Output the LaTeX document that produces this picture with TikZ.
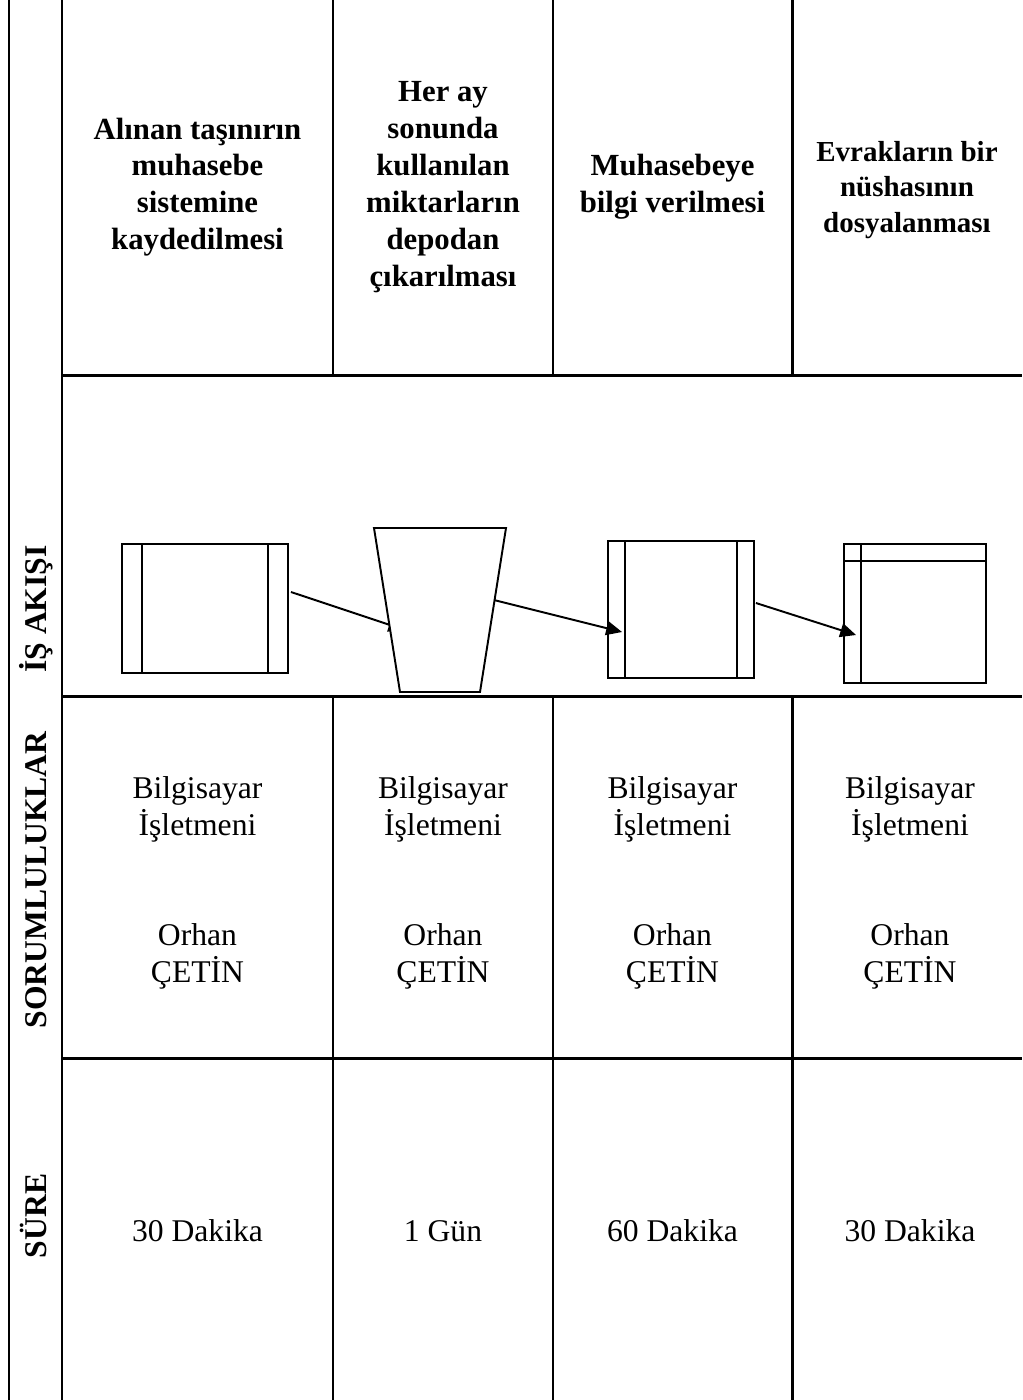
\documentclass[tikz,border=0pt]{standalone}
\usepackage{fontspec}
\setmainfont{Liberation Serif}
\usetikzlibrary{positioning,calc,arrows.meta,backgrounds}

\begin{document}
\begin{tikzpicture}[
  x=0.02cm, y=-0.02cm,
  rule/.style={line width=1.7pt},
  head/.style={font=\fontsize{17.5}{21}\selectfont\bfseries, align=center},
  cell/.style={font=\fontsize{18}{21}\selectfont, align=center},
  side/.style={font=\fontsize{18}{21}\selectfont\bfseries, rotate=90, anchor=base},
  docbox/.style={draw, line width=1.1pt, fill=white, minimum width=166*0.02cm,
    minimum height=129*0.02cm, inner sep=0pt},
  thin/.style={line width=1.1pt},
  arr/.style={-{Triangle[length=9pt,width=8pt]}, line width=1.1pt}
]
\useasboundingbox (0,0) rectangle (1022,1400);

% ---- table rules ----
\draw[rule] (9,0) -- (9,1400);
\draw[rule] (62,0) -- (62,1400);
\foreach \y in {375,696,1058}
  \draw[rule] (62,\y) -- (1022,\y);
\foreach \x in {333,553,792} {
  \draw[rule] (\x,0) -- (\x,375);
  \draw[rule] (\x,696) -- (\x,1400);
}

% ---- row titles ----
\node[side] (tflow) at (47,609) {İŞ AKIŞI};
\node[side] (tresp) at (47,880) {SORUMLULUKLAR};
\node[side] (ttime) at (47,1216) {SÜRE};

% ---- headers ----
\node[head] (h1) at (197.5,187) {Alınan taşınırın\\muhasebe\\sistemine\\kaydedilmesi};
\node[head] (h2) at (443,187) {Her ay\\sonunda\\kullanılan\\miktarların\\depodan\\çıkarılması};
\node[head] (h3) at (672.5,187) {Muhasebeye\\bilgi verilmesi};
\node[head, font=\fontsize{16.5}{20}\selectfont\bfseries] (h4) at (907,190)
  {Evrakların bir\\nüshasının\\dosyalanması};

% ---- flow symbols ----
\node[docbox] (s1) at (205,608.5) {};
\draw[thin] ($(s1.north west)+(21,0)$) -- ($(s1.south west)+(21,0)$);
\draw[thin] ($(s1.north east)+(-21,0)$) -- ($(s1.south east)+(-21,0)$);

\coordinate (s2nw) at (374,528);
\coordinate (s2ne) at (506,528);
\coordinate (s2se) at (480,692);
\coordinate (s2sw) at (400,692);
\draw[thin, fill=white] (s2nw) -- (s2ne) -- (s2se) -- (s2sw) -- cycle;
\coordinate (s2in) at ($(s2nw)!0.59!(s2sw)+(15,5)$);
\coordinate (s2out) at ($(s2ne)!0.44!(s2se)$);

\node[docbox, minimum width=146*0.02cm, minimum height=137*0.02cm] (s3) at (681,609.5) {};
\draw[thin] ($(s3.north west)+(18,0)$) -- ($(s3.south west)+(18,0)$);
\draw[thin] ($(s3.north east)+(-18,0)$) -- ($(s3.south east)+(-18,0)$);

\node[docbox, minimum width=142*0.02cm, minimum height=139*0.02cm] (s4) at (915,613.5) {};
\draw[thin] ($(s4.north west)+(18,0)$) -- ($(s4.south west)+(18,0)$);
\draw[thin] ($(s4.north west)+(0,18)$) -- ($(s4.north east)+(0,18)$);

\begin{pgfonlayer}{background}
\draw[arr] ($(s1.east)+(2,-16.5)$) -- (s2in);
\end{pgfonlayer}
\draw[arr] (s2out) -- ($(s3.west)+(15,22.5)$);
\draw[arr] ($(s3.east)+(1,-6.5)$) -- ($(s4.west)+(13,21.5)$);

% ---- responsibilities ----
\foreach \x/\n in {197.5/r1,443/r2,672.5/r3,910/r4}
  \node[cell] (\n) at (\x,883) {Bilgisayar\\İşletmeni\\[42pt]Orhan\\ÇETİN};

% ---- durations ----
\node[cell] (d1) at (197.5,1231) {30 Dakika};
\node[cell] (d2) at (443,1231) {1 Gün};
\node[cell] (d3) at (672.5,1231) {60 Dakika};
\node[cell] (d4) at (910,1231) {30 Dakika};
\end{tikzpicture}
\end{document}
